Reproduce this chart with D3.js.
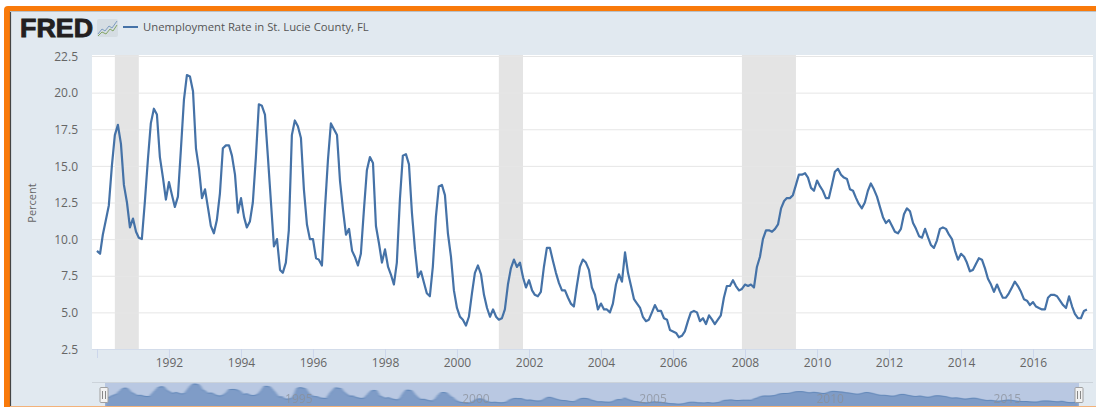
<!DOCTYPE html>
<html>
<head>
<meta charset="utf-8">
<script src="https://cdn.jsdelivr.net/npm/d3@7"></script>
<style>
html, body { margin: 0; padding: 0; background: #fff; }
svg { display: block; }
text { font-family: "Open Sans", sans-serif; }
</style>
</head>
<body>
<svg id="chart" width="1096" height="407"></svg>
<script>
const W = 1096
const H = 407
const seriesName = 'Unemployment Rate in St. Lucie County, FL'

// monthly, one row per year, 1990 to Jul 2017
const rates = [
    9.2, 9.0, 10.3, 11.3, 12.3, 15.0, 17.1, 17.8, 16.5, 13.7, 12.5, 10.8,
    11.4, 10.5, 10.1, 10.0, 12.5, 15.4, 17.9, 18.9, 18.5, 15.6, 14.2, 12.7,
    13.9, 13.0, 12.2, 12.9, 16.1, 19.5, 21.2, 21.1, 20.1, 16.2, 14.8, 12.8,
    13.4, 12.1, 10.9, 10.4, 11.3, 13.1, 16.2, 16.4, 16.4, 15.7, 14.4, 11.8,
    12.8, 11.5, 10.8, 11.2, 12.5, 15.6, 19.2, 19.1, 18.5, 15.6, 12.5, 9.5,
    10.0, 7.9, 7.7, 8.4, 10.6, 17.1, 18.1, 17.7, 16.9, 13.4, 11.0, 10.0,
    10.0, 8.7, 8.6, 8.2, 12.0, 15.4, 17.9, 17.5, 17.1, 14.0, 12.0, 10.3,
    10.7, 9.2, 8.8, 8.2, 9.0, 12.0, 14.7, 15.6, 15.2, 10.9, 9.7, 8.4,
    9.3, 8.1, 7.6, 6.9, 8.4, 12.7, 15.7, 15.8, 15.1, 11.8, 9.3, 7.4,
    7.8, 7.0, 6.3, 6.1, 8.1, 11.5, 13.6, 13.7, 13.0, 10.4, 8.8, 6.5,
    5.3, 4.7, 4.5, 4.1, 4.7, 6.3, 7.7, 8.2, 7.6, 6.2, 5.3, 4.7,
    5.2, 4.7, 4.5, 4.6, 5.2, 6.9, 8.0, 8.6, 8.1, 8.4, 7.4, 6.7,
    7.2, 6.5, 6.2, 6.1, 6.4, 8.1, 9.4, 9.4, 8.5, 7.7, 7.0, 6.5,
    6.5, 6.0, 5.6, 5.4, 6.8, 8.1, 8.6, 8.4, 7.9, 6.7, 6.2, 5.2,
    5.6, 5.2, 5.2, 5.0, 5.6, 6.9, 7.6, 7.1, 9.1, 7.7, 6.8, 5.9,
    5.6, 5.3, 4.7, 4.4, 4.5, 5.0, 5.5, 5.1, 5.1, 4.6, 4.5, 3.8,
    3.7, 3.6, 3.3, 3.4, 3.7, 4.4, 5.0, 5.1, 5.0, 4.4, 4.6, 4.2,
    4.8, 4.5, 4.2, 4.5, 4.8, 6.0, 6.8, 6.8, 7.2, 6.8, 6.5, 6.6,
    6.9, 6.8, 6.9, 6.7, 8.1, 8.8, 10.0, 10.6, 10.6, 10.5, 10.7, 11.0,
    12.1, 12.6, 12.8, 12.8, 13.0, 13.7, 14.4, 14.4, 14.5, 14.2, 13.5, 13.3,
    14.0, 13.6, 13.3, 12.8, 12.8, 13.7, 14.6, 14.8, 14.4, 14.2, 14.1, 13.4,
    13.3, 12.8, 12.4, 12.1, 12.5, 13.3, 13.8, 13.4, 12.9, 12.2, 11.5, 11.1,
    11.3, 10.9, 10.5, 10.4, 10.7, 11.7, 12.1, 11.9, 11.1, 10.7, 10.2, 10.1,
    10.7, 10.1, 9.6, 9.4, 9.9, 10.7, 10.8, 10.7, 10.3, 10.0, 9.2, 8.6,
    9.0, 8.8, 8.4, 7.8, 7.9, 8.3, 8.7, 8.6, 8.0, 7.3, 6.9, 6.4,
    6.9, 6.4, 6.0, 6.0, 6.3, 6.7, 7.1, 6.8, 6.4, 5.9, 5.8, 5.5,
    5.7, 5.4, 5.3, 5.2, 5.2, 6.0, 6.2, 6.2, 6.1, 5.8, 5.5, 5.3,
    6.1, 5.4, 4.9, 4.6, 4.6, 5.1, 5.2
]
const startYear = 1990
const recessionStarts = ['1990-07', '2001-03', '2007-12']
const recessionEnds = ['1991-03', '2001-11', '2009-06']
const yTicks = [2.5, 5, 7.5, 10, 12.5, 15, 17.5, 20, 22.5]
const xTickYears = [1990, 1992, 1994, 1996, 1998, 2000, 2002, 2004, 2006, 2008, 2010, 2012, 2014, 2016]
const navTickYears = [1995, 2000, 2005, 2010, 2015]

const bg = '#e1e9f0'
const orange = '#f97a0a'
const lineBlue = '#4572a7'

const parseMonth = d3.timeParse('%Y-%m')
const yearDate = y => new Date(y, 0, 1)
const points = rates.map((v, i) => ({ date: new Date(startYear, i, 1), v: v }))

const svg = d3.select('#chart')

// the navigator shape is soft in the original, blur it sideways
const defs = svg.append('defs')
defs.append('filter').attr('id', 'navSoft').attr('x', '-2%').attr('y', '-20%').attr('width', '104%').attr('height', '140%')
    .append('feGaussianBlur').attr('stdDeviation', '1.6 0.3')
defs.append('filter').attr('id', 'lineSoft').attr('x', '-2%').attr('y', '-2%').attr('width', '104%').attr('height', '104%')
    .append('feGaussianBlur').attr('stdDeviation', '0.35')
defs.append('clipPath').attr('id', 'navClip').append('rect')
    .attr('x', 105).attr('y', 383).attr('width', 974).attr('height', 23)

// frame
svg.append('rect').attr('x', 4).attr('y', 6).attr('width', W).attr('height', H).attr('rx', 4).attr('fill', orange)
svg.append('rect').attr('x', 10).attr('y', 11).attr('width', W).attr('height', 395).attr('fill', bg)
svg.append('line').attr('x1', 10.5).attr('x2', 10.5).attr('y1', 11).attr('y2', 406).attr('stroke', '#444').attr('stroke-width', 1.2)
svg.append('line').attr('x1', 10).attr('x2', W).attr('y1', 11.5).attr('y2', 11.5).attr('stroke', '#b9c0c6').attr('stroke-width', 1)
svg.append('rect').attr('x', 10).attr('y', 406).attr('width', W).attr('height', 1).attr('fill', '#f3b27a')

// header
svg.append('text')
    .attr('x', 20).attr('y', 37)
    .attr('textLength', 73).attr('lengthAdjust', 'spacingAndGlyphs')
    .style('font-family', '"Liberation Sans", sans-serif')
    .style('font-weight', 700).style('font-size', '26px')
    .attr('fill', '#231f20').attr('stroke', '#231f20').attr('stroke-width', 0.9)
    .text('FRED')
const icon = svg.append('g').attr('transform', 'translate(97,19)')
icon.append('rect').attr('width', 21).attr('height', 18).attr('rx', 2).attr('fill', '#d5dde3')
icon.append('path').attr('d', 'M1,15 L5,10 L8,12 L12,7 L15,9 L20,2').attr('fill', 'none').attr('stroke', '#7d9cc0').attr('stroke-width', 1)
icon.append('path').attr('d', 'M1,17 L5,13 L9,15 L13,10 L16,12 L20,6').attr('fill', 'none').attr('stroke', '#83a566').attr('stroke-width', 1)
svg.append('line').attr('x1', 123).attr('x2', 138).attr('y1', 27).attr('y2', 27).attr('stroke', lineBlue).attr('stroke-width', 2)
svg.append('text').attr('x', 143).attr('y', 31).attr('fill', '#555').style('font-size', '11.3px').text(seriesName)

// main plot
const plotL = 92
const plotR = 1093
const plotT = 56
const plotB = 349
const x = d3.scaleTime().domain([yearDate(1990), yearDate(2016)]).range([97, 1033])
const y = d3.scaleLinear().domain([2.5, 22.5]).range([plotB, plotT])

svg.append('rect').attr('x', plotL).attr('y', plotT - 1).attr('width', plotR - plotL).attr('height', plotB - plotT + 1).attr('fill', '#fff')

svg.selectAll('.recession').data(recessionStarts).enter().append('rect')
    .attr('class', 'recession')
    .attr('x', d => x(parseMonth(d)))
    .attr('y', plotT - 1)
    .attr('width', (d, i) => x(parseMonth(recessionEnds[i])) - x(parseMonth(d)))
    .attr('height', plotB - plotT + 1)
    .attr('fill', '#e4e4e4')

const yAxis = d3.axisLeft(y).tickValues(yTicks).tickSize(plotL - plotR).tickPadding(0).tickFormat(d3.format('.1f'))
const yG = svg.append('g').attr('transform', `translate(${plotL},0)`).call(yAxis)
yG.select('.domain').remove()
yG.selectAll('.tick line').attr('stroke', '#e6e6e6')
yG.selectAll('.tick text')
    .attr('x', -14).attr('dy', '0.35em')
    .attr('fill', '#666')
    .style('font-family', '"Open Sans", sans-serif').style('font-size', '12px')

svg.append('path').datum(points)
    .attr('d', d3.line().x(d => x(d.date)).y(d => y(d.v)))
    .attr('fill', 'none')
    .attr('stroke', lineBlue)
    .attr('stroke-width', 2.2)
    .attr('stroke-linejoin', 'round')
    .attr('filter', 'url(#lineSoft)')

const xAxis = d3.axisBottom(x)
    .tickValues(xTickYears.map(yearDate))
    .tickSize(9).tickPadding(0)
    .tickFormat(d => d.getFullYear() === 1990 ? '' : d.getFullYear())
const xG = svg.append('g').attr('transform', `translate(0,${plotB})`).call(xAxis)
xG.select('.domain').attr('d', `M${plotL},0.5H${plotR}`).attr('stroke', '#d3dcea')
xG.selectAll('.tick line').attr('stroke', '#ccd6eb')
xG.selectAll('.tick text')
    .attr('y', 9).attr('dy', '0.71em')
    .attr('fill', '#666')
    .style('font-family', '"Open Sans", sans-serif').style('font-size', '12px')

svg.append('text')
    .attr('transform', 'translate(36,203) rotate(-90)')
    .attr('text-anchor', 'middle')
    .attr('fill', '#666')
    .style('font-size', '11px')
    .text('Percent')

// navigator
const navL = 105
const navR = 1079
const navT = 383
const navB = 406
const navX = d3.scaleTime().domain([yearDate(1990), points[points.length - 1].date]).range([navL, navR])
const navY = d3.scaleLinear().domain([0, 21.2]).range([407.9, 384])

svg.append('line').attr('x1', plotL).attr('x2', plotR).attr('y1', navT - 0.5).attr('y2', navT - 0.5).attr('stroke', '#ccd3da')
svg.append('rect').attr('x', navL).attr('y', navT).attr('width', navR - navL).attr('height', navB - navT).attr('fill', '#b9c8e2')
const navG = svg.append('g').attr('clip-path', 'url(#navClip)').append('g').attr('filter', 'url(#navSoft)')
navG.append('path').datum(points)
    .attr('d', d3.area().x(d => navX(d.date)).y0(navB + 4).y1(d => navY(d.v)))
    .attr('fill', '#7f9cc7')
navG.append('path').datum(points)
    .attr('d', d3.line().x(d => navX(d.date)).y(d => navY(d.v)))
    .attr('fill', 'none').attr('stroke', '#5c83b6').attr('stroke-width', 1)

svg.selectAll('.nav-label').data(navTickYears).enter().append('text')
    .attr('class', 'nav-label')
    .attr('x', d => navX(yearDate(d)) + 3)
    .attr('y', 403)
    .attr('fill', '#8a8f98')
    .attr('opacity', 0.75)
    .style('font-size', '12px')
    .text(d => d)

;[navL - 1, navR].forEach(cx => {
    const h = svg.append('g').attr('transform', `translate(${cx},0)`)
    h.append('rect').attr('x', -4).attr('y', 387.5).attr('width', 8).attr('height', 15).attr('rx', 1)
        .attr('fill', '#f2f2f2').attr('stroke', '#a0a0a0')
    h.append('line').attr('x1', -1.5).attr('x2', -1.5).attr('y1', 391).attr('y2', 399).attr('stroke', '#888')
    h.append('line').attr('x1', 1.5).attr('x2', 1.5).attr('y1', 391).attr('y2', 399).attr('stroke', '#888')
})
</script>
</body>
</html>
